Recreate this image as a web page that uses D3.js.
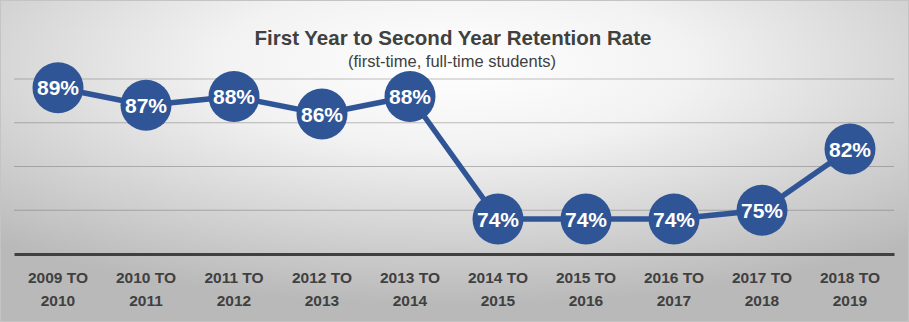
<!DOCTYPE html>
<html><head><meta charset="utf-8">
<script src="https://cdn.jsdelivr.net/npm/d3@7"></script>
<style>html,body{margin:0;padding:0;background:#fff;}svg{display:block;}</style>
</head><body>
<svg id="chart" width="909" height="322"></svg>
<script>
const categories = ["2009 TO 2010","2010 TO 2011","2011 TO 2012","2012 TO 2013","2013 TO 2014","2014 TO 2015","2015 TO 2016","2016 TO 2017","2017 TO 2018","2018 TO 2019"];
const retention = [89, 87, 88, 86, 88, 74, 74, 74, 75, 82];
const yTicks = [70, 75, 80, 85, 90];
const title = "First Year to Second Year Retention Rate";
const subtitle = "(first-time, full-time students)";

const W = 909, H = 322;
const svg = d3.select("#chart");
const defs = svg.append("defs");
const grad = defs.append("radialGradient").attr("id","bg")
  .attr("cx","50%").attr("cy","20%").attr("r","75%").attr("fx","50%").attr("fy","20%");
grad.append("stop").attr("offset","0%").attr("stop-color","#ffffff");
grad.append("stop").attr("offset","35%").attr("stop-color","#f2f2f2");
grad.append("stop").attr("offset","100%").attr("stop-color","#b9b9b9");
svg.append("rect").attr("x",0.5).attr("y",0.5).attr("width",W-1).attr("height",H-1)
  .attr("fill","url(#bg)").attr("stroke","#c4c4c4").attr("stroke-width",1);

const x = d3.scaleBand().domain(categories).range([14, 894]);
const y = d3.scaleLinear().domain([70, 90]).range([254, 79]);
const blue = "#2F5597";

// gridlines
svg.append("g").selectAll("line").data(yTicks.filter(d => d > 70)).join("line")
  .attr("x1", 14).attr("x2", 894)
  .attr("y1", d => y(d)).attr("y2", d => y(d))
  .attr("stroke", "rgba(110,110,110,0.45)").attr("stroke-width", 1);

// axis
const xAxis = d3.axisBottom(x).tickSize(0).tickFormat("");
const gx = svg.append("g").attr("transform", `translate(0,${y(70)})`).call(xAxis);
gx.select(".domain").attr("stroke", "#404040").attr("stroke-width", 3);

// category labels (two lines)
const lab = svg.append("g").selectAll("text").data(categories).join("text")
  .attr("x", d => x(d) + x.bandwidth()/2)
  .attr("text-anchor","middle")
  .attr("font-family","'Liberation Sans', Arial, sans-serif")
  .attr("font-weight","bold").attr("font-size", 15.5).attr("fill","#404040");
lab.each(function(d){
  const parts = d.split(" TO ");
  const t = d3.select(this);
  t.append("tspan").attr("x", x(d) + x.bandwidth()/2).attr("y", 283).text(parts[0] + " TO");
  t.append("tspan").attr("x", x(d) + x.bandwidth()/2).attr("y", 306).text(parts[1]);
});

// title
svg.append("text").attr("x", 453).attr("y", 45).attr("text-anchor","middle")
  .attr("font-family","'Liberation Sans', Arial, sans-serif").attr("font-weight","bold")
  .attr("font-size", 20.5).attr("fill","#404040").text(title);
svg.append("text").attr("x", 452).attr("y", 67).attr("text-anchor","middle")
  .attr("font-family","'Liberation Sans', Arial, sans-serif")
  .attr("font-size", 16.5).attr("fill","#404040").text(subtitle);

// line
const pts = categories.map((c,i) => ({c, v: retention[i]}));
svg.append("path").datum(pts)
  .attr("d", d3.line().x(d => x(d.c) + x.bandwidth()/2).y(d => y(d.v)))
  .attr("fill","none").attr("stroke", blue).attr("stroke-width", 5.5).attr("stroke-linejoin","round");

const g = svg.append("g").selectAll("g").data(pts).join("g")
  .attr("transform", d => `translate(${x(d.c) + x.bandwidth()/2},${y(d.v)})`);
g.append("circle").attr("r", 25.5).attr("fill", blue);
g.append("text").attr("text-anchor","middle").attr("dy", 7.5)
  .attr("font-family","'Liberation Sans', Arial, sans-serif").attr("font-weight","bold")
  .attr("font-size", 21).attr("fill","#ffffff").text(d => d.v + "%");
</script>
</body></html>
